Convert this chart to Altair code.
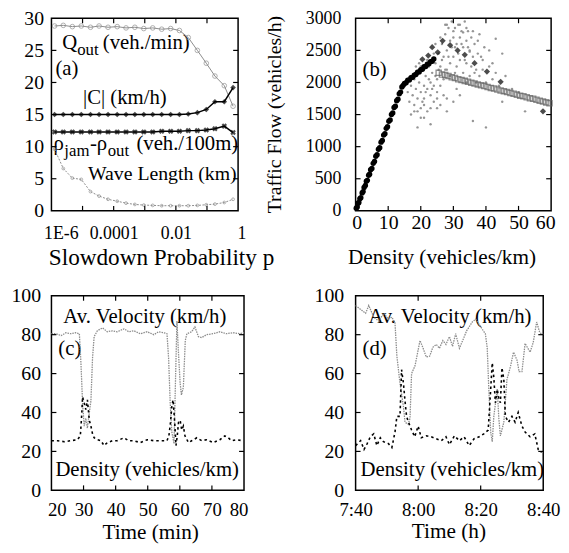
import altair as alt
import pandas as pd

FONT = "Liberation Serif"
GRAY = "#8c8c8c"

# ---------------- panel (a) ----------------
p_vals = [1.26e-6, 2.4e-6, 4.7e-6, 9.1e-6, 1.8e-5, 3.4e-5, 6.6e-5, 1.3e-4, 2.5e-4, 4.8e-4,
          9.3e-4, 1.8e-3, 3.5e-3, 6.8e-3, 0.013, 0.025, 0.049, 0.095, 0.18, 0.36, 0.69]
q_out = [28.8, 28.9, 28.7, 28.8, 28.6, 28.8, 28.6, 28.7, 28.5, 28.6, 28.4,
         28.5, 28.3, 28.4, 28.1, 27.0, 25.0, 23.0, 21.0, 19.5, 16.3]
c_abs = [15.0, 15.0, 15.0, 15.0, 15.0, 15.0, 15.0, 15.0, 15.0, 15.0, 15.0,
         15.0, 15.0, 15.0, 15.0, 15.1, 15.3, 15.8, 17.0, 17.0, 19.2]
rho_diff = [12.3, 12.3, 12.3, 12.3, 12.3, 12.3, 12.3, 12.3, 12.3, 12.3, 12.3,
            12.3, 12.4, 12.4, 12.4, 12.5, 12.5, 12.6, 12.8, 13.2, 12.2]
wave_len = [9.6, 6.6, 5.1, 4.9, 3.0, 2.3, 1.8, 1.5, 1.2, 1.0, 0.9,
            0.85, 0.8, 0.8, 0.8, 0.8, 0.85, 0.95, 1.05, 1.3, 1.8]
a_xlabels = [1e-6, 1e-4, 1e-2, 1]
a_xticks = [1e-5, 1e-4, 1e-3, 1e-2, 1e-1]
a_yticks = [0, 5, 10, 15, 20, 25, 30]

# ---------------- panel (b) ----------------
ff_density = [0.2, 0.5, 0.8, 1.0, 1.3, 1.6, 2.0, 2.3, 2.6, 3.0, 3.3, 3.6, 4.0, 4.3, 4.6, 5.0,
              5.4, 5.8, 6.2, 6.6, 7.0, 7.4, 7.8, 8.2, 8.6, 9.0, 9.4, 9.8, 10.2, 10.6, 11.0,
              11.4, 11.8, 12.2, 12.6, 13.0, 13.4, 13.8, 14.2, 14.6, 15.0, 15.5, 16.0, 16.5,
              17.0, 17.5, 18.0, 18.5, 19.0, 19.5, 20.0, 20.5, 21.0, 21.5, 22.0, 22.5, 23.0,
              23.5, 24.0]
ff_flow = [40, 60, 120, 130, 190, 205, 280, 300, 365, 395, 460, 475, 555, 570, 640, 660,
           740, 770, 850, 875, 960, 985, 1070, 1095, 1180, 1200, 1285, 1310, 1395, 1415, 1500,
           1525, 1610, 1630, 1715, 1740, 1825, 1850, 1930, 1955, 1985, 1995, 2035, 2040,
           2075, 2080, 2115, 2125, 2160, 2165, 2200, 2205, 2245, 2250, 2285, 2290, 2325,
           2330, 2365]
jam_density = [20.5, 22.3, 23.5, 25.2, 26.7, 29.0, 31.3, 33.5, 36.5, 40.3, 44.5, 57.5]
jam_flow = [2360, 2420, 2550, 2470, 2650, 2580, 2500, 2430, 2300, 2170, 2010, 1550]
cong_density = [25.5, 26.5, 27.5, 28.5, 29.5, 30.5, 31.5, 32.5, 33.5, 34.5, 35.5, 36.5,
                37.5, 38.5, 39.5, 40.5, 41.5, 42.5, 43.5, 44.5, 45.5, 46.5, 47.5, 48.5,
                49.5, 50.5, 51.5, 52.5, 53.5, 54.5, 55.5, 56.5, 57.5, 58.5, 59.5]
cong_flow = [2150, 2125, 2115, 2100, 2080, 2070, 2050, 2040, 2025, 2010, 1995, 1985,
             1970, 1955, 1945, 1930, 1915, 1905, 1890, 1875, 1865, 1850, 1835, 1825,
             1810, 1795, 1785, 1770, 1755, 1745, 1730, 1715, 1705, 1690, 1675]
cloud_density = [16, 16.5, 17, 17.5, 18, 18, 18.5, 19, 19, 19.5, 20, 20, 20.5, 21, 21, 21.5,
                 22, 22, 22.5, 23, 23, 23.5, 24, 24, 24.5, 25, 25, 25.5, 26, 26, 26.5, 27,
                 27, 27.5, 28, 28, 28.5, 29, 29, 29.5, 30, 30, 30.5, 31, 31, 31.5, 32, 32,
                 32.5, 33, 33.5, 34, 34, 34.5, 35, 35.5, 36, 36.5, 37, 37.5, 38, 39, 40, 41,
                 42, 43, 44, 46, 48, 50, 20, 23, 25, 28, 31, 34, 36, 40, 45, 52, 17, 19,
                 43, 38, 41, 30.5, 27.5, 33, 24.5, 35,
                 18.5, 19.5, 20.5, 21.5, 22.5, 23.5, 24.5, 25.5, 26.5, 27.5, 28.5, 29.5, 30.5,
                 31.5, 32.5, 33.5, 34.5, 35.5, 36.5, 37.5, 38.5, 39.5, 17, 18, 20, 22, 24, 26,
                 28, 30, 32, 34, 36, 29, 27, 25, 23, 21, 19, 33, 35, 37, 39, 42, 45, 26, 28,
                 30, 32, 21]
cloud_flow = [1850, 1700, 1950, 1800, 1650, 2050, 1900, 1750, 2150, 2000, 1850, 1600, 2200,
              1950, 1750, 2100, 1900, 1550, 2250, 2000, 1800, 2150, 1950, 1700, 2300, 2050,
              1850, 2450, 2250, 1950, 2600, 2400, 2050, 2750, 2500, 2200, 2850, 2650, 2300,
              2950, 2700, 2400, 2850, 2600, 2250, 2900, 2700, 2350, 2800, 2550, 2950, 2650,
              2300, 2800, 2500, 2700, 2400, 2600, 2200, 2450, 2100, 2350, 2000, 2250, 2050,
              2150, 1950, 2100, 1900, 1850, 1450, 1350, 1600, 1750, 1900, 2000, 1400, 1300,
              1700, 1550, 1500, 1300, 2680, 2750, 2500, 2550, 2900, 2780, 2600, 2480,
              2250, 2300, 1700, 1850, 2050, 1900, 2100, 2200, 2350, 2200, 2400, 2550, 2150,
              2450, 2600, 2350, 2550, 2250, 2150, 2650, 2400, 2550, 2100, 1550, 2250, 2350,
              2450, 2700, 2900, 2800, 2900, 2850, 2800, 2100, 1800, 1750, 1600, 1650, 1550,
              2150, 2100, 2000, 2200, 2300, 2450, 1650, 1550, 1700, 1800, 1450]
b_xticks = [10, 20, 30, 40, 50]
b_yticks = [500, 1000, 1500, 2000, 2500]

# ---------------- panel (c) ----------------
c_vel_t = [20.0, 21.5, 23.0, 24.5, 26.0, 27.5, 28.7, 29.2, 29.7, 30.2, 30.7, 31.2, 31.8,
           32.3, 32.8, 33.3, 34.3, 35.9, 37.4, 39.0, 40.5, 42.6, 44.1, 45.7, 47.7, 49.8,
           51.9, 53.4, 55.0, 56.0, 56.5, 57.0, 57.5, 58.2, 58.7, 59.1, 59.6, 60.1, 60.5,
           61.1, 61.7, 62.2, 63.7, 64.7, 65.8, 66.8, 68.3, 70.4, 72.5, 74.5, 76.6, 78.7, 80.0]
c_vel = [80.5, 80.5, 79.5, 81, 80.5, 81, 80.5, 65, 45, 33, 37, 32, 40, 46, 68, 79, 82,
         83.5, 81.5, 82, 81.5, 83, 81.5, 82, 80.5, 81.5, 80, 81.5, 81, 80.5, 68, 45, 30,
         24, 60, 87, 70, 55, 49, 53, 77, 80.5, 81.5, 84, 79, 78.5, 80, 80.5, 81.5, 80.5,
         81, 80.5, 81]
c_den_t = [20.0, 22.0, 24.0, 26.1, 28.1, 29.0, 29.4, 29.7, 30.2, 30.7, 31.2, 31.8, 32.3,
           32.8, 33.3, 34.3, 35.4, 36.4, 37.4, 39.0, 40.5, 42.6, 44.1, 45.7, 47.7, 49.8,
           51.9, 53.9, 56.0, 56.6, 57.1, 57.5, 57.9, 58.4, 58.8, 59.2, 59.6, 60.1, 60.6,
           61.1, 61.6, 62.7, 63.7, 65.3, 66.8, 68.3, 70.4, 72.5, 74.0, 75.1, 76.1, 77.6, 79.7]
c_den = [25.5, 25.5, 25, 25.5, 26, 28, 38, 48, 45, 41.5, 46.5, 36, 33, 29, 27, 26, 25.5,
         23, 24.5, 25.5, 25.5, 27, 25.5, 25.5, 24.5, 26, 25.5, 25.5, 25.5, 28, 35, 43,
         46.5, 35, 23, 28, 35, 36, 31, 33, 28, 24.5, 25.5, 27, 25.5, 26, 24.5, 26, 28,
         27, 25.5, 26, 25.5]
c_xticks = [30, 40, 50, 60, 70]
vd_yticks = [20, 40, 60, 80]

# ---------------- panel (d) (minutes after midnight) ----------------
d_vel_t = [460, 461.6, 463.2, 464.2, 465.8, 467.4, 469, 470.5, 471.6, 472.6, 473.2, 474.2,
           475.3, 475.8, 476.8, 477.4, 477.9, 479, 480.6, 481.6, 482.6, 483.7, 484.7, 485.8,
           486.8, 487.9, 488.9, 490, 491, 492, 493.2, 494.5, 495.5, 497.3, 498.4, 500,
           501.5, 502.1, 502.6, 503.2, 503.7, 504.2, 505.3, 505.8, 506.3, 507.4, 508.4,
           509.5, 510.5, 511.6, 512.3, 513.2, 514.2, 515.8, 516.8, 517.9, 518.9, 520]
d_vel = [95, 93, 91, 95, 89, 87, 91, 88, 89, 86, 69, 55, 43, 35, 34, 37, 60, 64, 77, 73,
         68.5, 69, 73.5, 75, 73, 77, 75, 79, 74, 80.5, 73, 78, 82, 86.5, 88, 84, 80.5, 73,
         52, 30, 25, 38, 52, 37, 28, 35, 57, 63.5, 71, 67, 61, 61, 75.5, 71, 76, 86.5, 81, 80]
d_den_t = [460, 461.6, 462.7, 463.7, 464.7, 465.8, 466.8, 467.9, 468.9, 470.5, 471.6,
           472.6, 473.2, 474.2, 474.7, 475.3, 475.8, 476.3, 476.8, 477.9, 478.9, 480, 481,
           482.6, 484.2, 485.8, 487.4, 488.9, 490, 491.6, 493.2, 494.7, 496.3, 497.9,
           499.5, 501, 502.4, 503.2, 503.7, 504.2, 504.7, 505.3, 505.8, 506.3, 506.8,
           507.4, 507.9, 508.9, 510, 511, 512, 513.2, 514.2, 515.8, 517.3, 518.4, 519.5]
d_den = [23, 25.5, 21, 24, 27.5, 29, 23, 27, 25, 24, 22, 30, 38, 38, 62, 55, 46, 38, 35.5,
         31, 27.5, 33, 27, 28, 27.5, 26.5, 25.5, 27.5, 23.5, 28, 25.5, 27.5, 23, 26.5, 27.5,
         29, 31, 52, 65.5, 58, 45, 52, 47, 45, 63, 57, 38, 35, 38, 35, 40, 33, 30, 27.5,
         29, 21, 19.5]
d_xlabels = [460, 480, 500, 520]
d_xticks = [480, 500]


def edge_ticks(xvals, yvals, X, Y, W, H, L=5):
    ydf = pd.DataFrame({"v": yvals})
    xdf = pd.DataFrame({"v": xvals})
    ry = alt.Chart(ydf).mark_rule(color="black", strokeWidth=1.2)
    rx = alt.Chart(xdf).mark_rule(color="black", strokeWidth=1.2)
    return [
        ry.encode(y=Y("v"), x=alt.value(0), x2=alt.value(L)),
        ry.encode(y=Y("v"), x=alt.value(W - L), x2=alt.value(W)),
        rx.encode(x=X("v"), y=alt.value(H - L), y2=alt.value(H)),
        rx.encode(x=X("v"), y=alt.value(0), y2=alt.value(L)),
    ]


def txt(s, x, y, size=21, color="black"):
    return alt.Chart(pd.DataFrame({"s": [s]})).mark_text(
        font=FONT, fontSize=size, align="left", baseline="alphabetic", color=color
    ).encode(text="s:N", x=alt.value(x), y=alt.value(y))


def enc_factory(channel, scale, axis):
    def f(field):
        return channel(field + ":Q", scale=scale, axis=axis)
    return f


# ---------- build (a)
WA, HA = 189, 195
xa_axis = alt.Axis(values=a_xlabels,
                   labelExpr="datum.value < 1e-5 ? '1E-6' : datum.value < 1e-3 ? '0.0001' : datum.value < 0.1 ? '0.01' : '1'",
                   title="Slowdown Probability p", titleX=111, titleY=54, titleAlign="center",
                   titleBaseline="alphabetic", titleFontSize=23.5, labelFontSize=18,
                   labelPadding=14, labelFlush=True, labelFlushOffset=8)
ya_axis = alt.Axis(values=a_yticks, format="d", title=None, labelPadding=8)
XA = enc_factory(alt.X, alt.Scale(type="log", domain=[1e-6, 1], nice=False), xa_axis)
YA = enc_factory(alt.Y, alt.Scale(domain=[0, 30], nice=False, zero=False), ya_axis)
dfa = pd.DataFrame({"p": p_vals, "q": q_out, "c": c_abs, "r": rho_diff, "w": wave_len})
basea = alt.Chart(dfa)
a_layers = [
    txt("Q", 11, 31), txt("out", 26, 37, size=17), txt("(veh./min)", 52, 31),
    txt("(a)", 4, 57),
    txt("|C| (km/h)", 32, 87),
    txt("ρ", 2, 133), txt("jam", 13, 139, size=17), txt("-ρ", 39, 133),
    txt("out", 57, 139, size=17), txt("(veh./100m)", 86, 133),
    txt("Wave Length (km)", 37, 164, size=20),
    basea.mark_line(color=GRAY, strokeWidth=1).encode(x=XA("p"), y=YA("q")),
    basea.mark_point(shape="circle", filled=False, color=GRAY, size=22, strokeWidth=1).encode(
        x=XA("p"), y=YA("q")),
    basea.mark_line(color="black", strokeWidth=1.5).encode(x=XA("p"), y=YA("c")),
    basea.mark_point(shape="diamond", filled=True, color="black", size=32).encode(
        x=XA("p"), y=YA("c")),
    basea.mark_line(color="black", strokeWidth=1.5).encode(x=XA("p"), y=YA("r")),
    basea.mark_point(shape="cross", angle=45, filled=True, color="black", size=32).encode(
        x=XA("p"), y=YA("r")),
    basea.mark_line(color=GRAY, strokeWidth=1, strokeDash=[2, 1.5]).encode(x=XA("p"), y=YA("w")),
    basea.mark_point(shape="circle", filled=False, color=GRAY, size=8, strokeWidth=1).encode(
        x=XA("p"), y=YA("w")),
] + edge_ticks(a_xticks, a_yticks[1:-1], XA, YA, WA, HA)
panel_a = alt.layer(*a_layers).properties(width=WA, height=HA)

# ---------- build (b)
WB, HB = 198, 195
xb_axis = alt.Axis(values=[0, 10, 20, 30, 40, 50, 60], format="d", title="Density (vehicles/km)",
                   titleX=87, titleY=53, titleAlign="center", titleBaseline="alphabetic",
                   labelPadding=2, labelFlush=True, labelFlushOffset=4)
yb_axis = alt.Axis(values=[0, 500, 1000, 1500, 2000, 2500, 3000], format="d",
                   title="Traffic Flow (vehicles/h)",
                   titleX=-76, titleY=97, titleAngle=270, titleAlign="center",
                   titleBaseline="alphabetic", titleFontSize=20, labelFontSize=18, labelPadding=15)
XB = enc_factory(alt.X, alt.Scale(domain=[0, 60], nice=False, zero=False), xb_axis)
YB = enc_factory(alt.Y, alt.Scale(domain=[0, 3000], nice=False, zero=False), yb_axis)
b_layers = [
    alt.Chart(pd.DataFrame({"d": cloud_density, "f": cloud_flow})).mark_circle(
        color="#8a8a8a", size=6, opacity=0.9).encode(x=XB("d"), y=YB("f")),
    alt.Chart(pd.DataFrame({"d": ff_density, "f": ff_flow})).mark_circle(
        color="black", size=30, opacity=1).encode(x=XB("d"), y=YB("f")),
    alt.Chart(pd.DataFrame({"d": cong_density, "f": cong_flow})).mark_point(
        shape="square", filled=False, color="#606060", size=28, strokeWidth=1.3).encode(
        x=XB("d"), y=YB("f")),
    alt.Chart(pd.DataFrame({"d": jam_density, "f": jam_flow})).mark_point(
        shape="diamond", filled=True, color="black", size=40).encode(x=XB("d"), y=YB("f")),
    txt("(b)", 7, 58),
] + edge_ticks(b_xticks, b_yticks, XB, YB, WB, HB)
panel_b = alt.layer(*b_layers).properties(width=WB, height=HB)

# ---------- build (c)
WC, HC = 195, 197
yv_scale = alt.Scale(domain=[0, 100], nice=False, zero=False)
xc_axis = alt.Axis(values=[20, 30, 40, 50, 60, 70, 80], format="d", title="Time (min)",
                   titleX=100, titleY=49, titleAlign="center", titleBaseline="alphabetic",
                   labelPadding=11, labelFontSize=19, labelFlush=True, labelFlushOffset=4)
yc_axis = alt.Axis(values=[0, 20, 40, 60, 80, 100], format="d", title=None, labelPadding=11)
XC = enc_factory(alt.X, alt.Scale(domain=[20, 80], nice=False, zero=False), xc_axis)
YC = enc_factory(alt.Y, yv_scale, yc_axis)
c_layers = [
    txt("Av. Velocity (km/h)", 12, 28), txt("(c)", 7, 60), txt("Density (vehicles/km)", 4, 182),
    alt.Chart(pd.DataFrame({"t": c_vel_t, "v": c_vel})).mark_line(
        color=GRAY, strokeWidth=1.3, strokeDash=[1.5, 1]).encode(x=XC("t"), y=YC("v")),
    alt.Chart(pd.DataFrame({"t": c_den_t, "v": c_den})).mark_line(
        color="black", strokeWidth=1.6, strokeDash=[2.5, 3]).encode(x=XC("t"), y=YC("v")),
] + edge_ticks(c_xticks, vd_yticks, XC, YC, WC, HC)
panel_c = alt.layer(*c_layers).properties(width=WC, height=HC)

# ---------- build (d)
WD, HD = 190, 197
xd_axis = alt.Axis(values=d_xlabels,
                   labelExpr="floor(datum.value / 60) + ':' + (datum.value % 60 < 10 ? '0' : '') + (datum.value % 60)",
                   title="Time (h)", titleX=94, titleY=48, titleAlign="center",
                   titleBaseline="alphabetic", labelPadding=11, labelFlush=False, labelFontSize=19)
yd_axis = alt.Axis(values=[0, 20, 40, 60, 80, 100], format="d", title=None, labelPadding=12)
XD = enc_factory(alt.X, alt.Scale(domain=[460, 520], nice=False, zero=False), xd_axis)
YD = enc_factory(alt.Y, yv_scale, yd_axis)
d_layers = [
    txt("Av. Velocity (km/h)", 13, 28), txt("(d)", 7, 60), txt("Density (vehicles/km)", 5, 182),
    alt.Chart(pd.DataFrame({"t": d_vel_t, "v": d_vel})).mark_line(
        color=GRAY, strokeWidth=1.3, strokeDash=[1.5, 1]).encode(x=XD("t"), y=YD("v")),
    alt.Chart(pd.DataFrame({"t": d_den_t, "v": d_den})).mark_line(
        color="black", strokeWidth=1.6, strokeDash=[2.5, 3]).encode(x=XD("t"), y=YD("v")),
] + edge_ticks(d_xticks, vd_yticks, XD, YD, WD, HD)
panel_d = alt.layer(*d_layers).properties(width=WD, height=HD)

chart = alt.concat(panel_a, panel_b, panel_c, panel_d, columns=2, bounds="flush",
                   spacing={"row": 86, "column": 113}).properties(
    padding={"left": 2, "top": -4, "right": 0, "bottom": 0}
).configure_view(stroke="black", strokeWidth=1.5).configure_axis(
    domain=False, ticks=False, grid=False, labelFont=FONT, titleFont=FONT,
    labelColor="black", titleColor="black", titleFontWeight="normal",
    labelFontSize=20, titleFontSize=21.5
)

chart.save("out.html", embed_options={"renderer": "svg", "actions": False})
